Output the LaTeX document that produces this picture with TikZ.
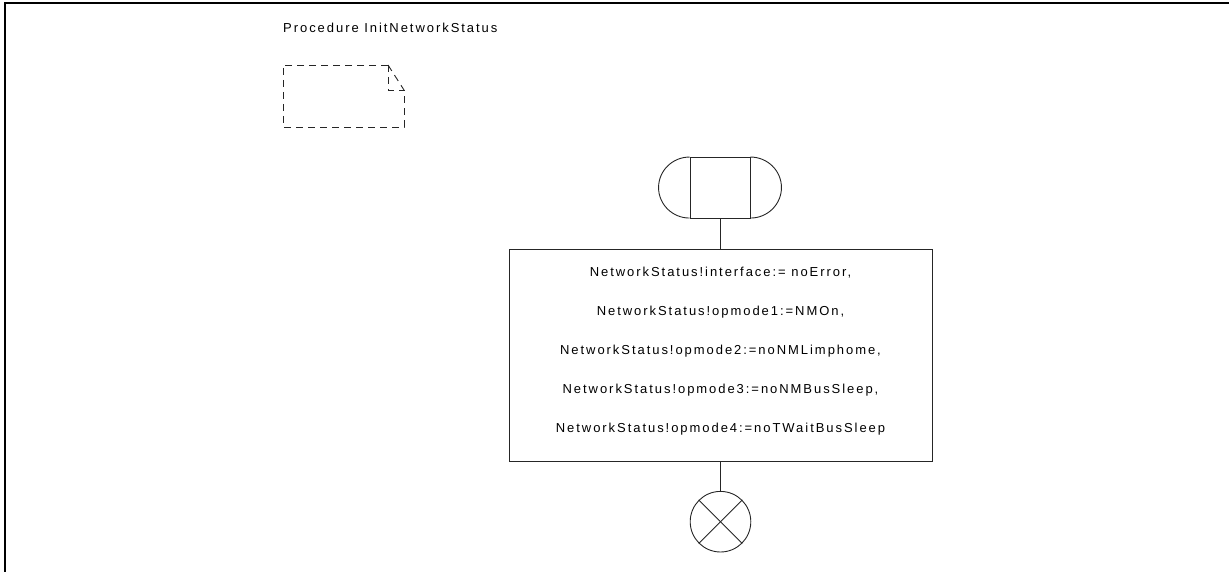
\documentclass[tikz,border=0pt]{standalone}
\usepackage{fontspec}
\setmainfont{Liberation Sans}[LetterSpace=15]
\begin{document}
\begin{tikzpicture}[x=1pt,y=-1pt,
  ln/.style={line width=0.9pt, draw=black!85},
  lbl/.style={font=\fontsize{13}{15}\selectfont, inner sep=0pt},
  dashline/.style={ln, dash pattern=on 7pt off 5pt},
  actionbox/.style={ln, minimum width=423pt, minimum height=212pt, inner sep=0pt},
  startbox/.style={ln, minimum width=60pt, minimum height=61pt, inner sep=0pt},
  endcirc/.style={ln, circle, minimum size=60.6pt, inner sep=0pt}]
\useasboundingbox (0,0) rectangle (1229,572);
% frame
\draw[line width=2pt] (4.5,572) -- (4.5,3.5) -- (1229,3.5);
% title
\node[lbl, anchor=west] (title) at (283,28) {Procedure InitNetworkStatus};
% dashed procedure reference symbol
\draw[dashline] (388,65) -- (283,65) -- (283,127) -- (404,127) -- (404,90);
\draw[dashline] (388,65) -- (404,90);
\draw[dashline] (388,65) -- (388,90) -- (404,90);
% start symbol
\node[startbox, draw] (start) at (720,188) {};
\draw[ln] (start.north west) arc[start angle=90, end angle=270, x radius=31pt, y radius=30.5pt];
\draw[ln] (start.north east) arc[start angle=90, end angle=-90, x radius=31pt, y radius=30.5pt];
% task box
\node[actionbox, draw] (action) at (720.5,355.2) {};
\node[lbl, align=center, font=\fontsize{13}{39}\selectfont] (actiontext) at (720.5,351.5)
  {NetworkStatus!interface:= noError,\\
   NetworkStatus!opmode1:=NMOn,\\
   NetworkStatus!opmode2:=noNMLimphome,\\
   NetworkStatus!opmode3:=noNMBusSleep,\\
   NetworkStatus!opmode4:=noTWaitBusSleep};
% end symbol
\node[endcirc, draw] (stop) at (720.5,521.7) {};
\draw[ln] (stop.north west) -- (stop.south east);
\draw[ln] (stop.north east) -- (stop.south west);
% connectors
\draw[ln] (start.south) -- (start.south |- action.north);
\draw[ln] (stop.north) -- (stop.north |- action.south);
\end{tikzpicture}
\end{document}
